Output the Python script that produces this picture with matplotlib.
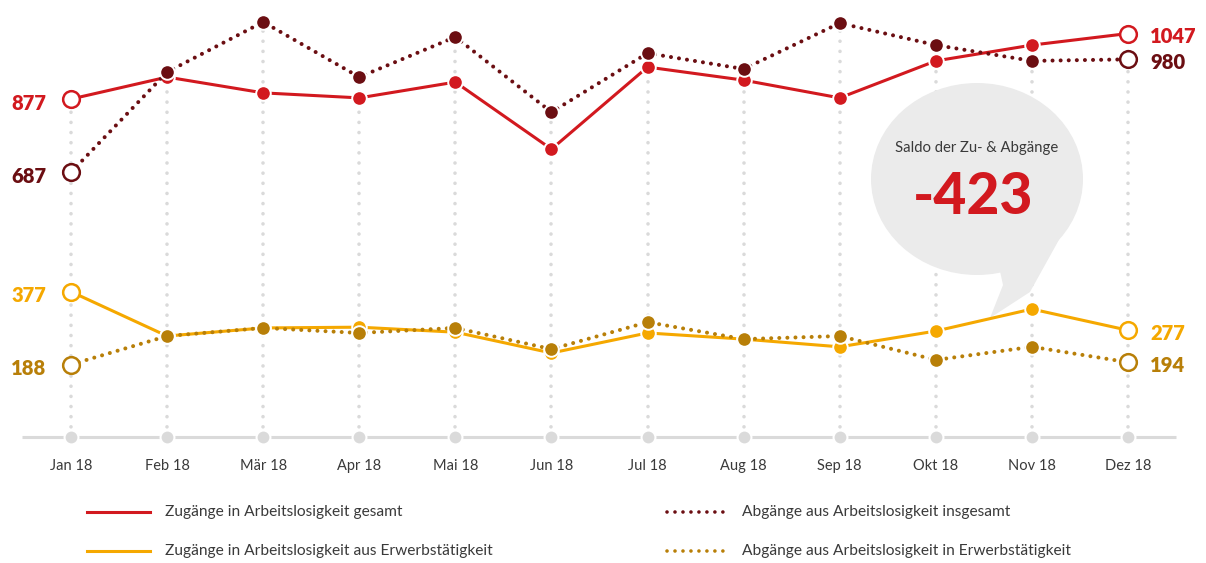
import matplotlib.pyplot as plt
import matplotlib.transforms as mtransforms
from matplotlib.patches import Ellipse, Polygon
from matplotlib.lines import Line2D

plt.rcParams['font.family'] = ['Lato', 'DejaVu Sans']

months = ['Jan 18', 'Feb 18', 'Mär 18', 'Apr 18', 'Mai 18', 'Jun 18',
          'Jul 18', 'Aug 18', 'Sep 18', 'Okt 18', 'Nov 18', 'Dez 18']

zugaenge_gesamt = [877, 934, 893, 880, 921, 747, 960, 926, 880, 976, 1017, 1047]
abgaenge_gesamt = [687, 947, 1077, 934, 1038, 843, 996, 955, 1074, 1017, 976, 980]
zugaenge_erwerb = [377, 262, 283, 285, 272, 218, 270, 254, 234, 275, 332, 277]
abgaenge_erwerb = [188, 262, 283, 270, 283, 228, 298, 254, 262, 200, 234, 194]

saldo = -423

labels = ['Zugänge in Arbeitslosigkeit gesamt',
          'Abgänge aus Arbeitslosigkeit insgesamt',
          'Zugänge in Arbeitslosigkeit aus Erwerbstätigkeit',
          'Abgänge aus Arbeitslosigkeit in Erwerbstätigkeit']

RED = '#d2191f'
DARKRED = '#6b0e12'
ORANGE = '#f5a800'
GOLD = '#b87f08'
GRID = '#dadada'
TEXT = '#3a3a3a'

W, H = 1206, 563
fig = plt.figure(figsize=(W / 100, H / 100), dpi=100)
ax = fig.add_axes([0, 0, 1, 1])
step = 96.09
upx = 2.595
ax.set_xlim(-71 / step, (W - 71) / step)
ax.set_ylim(-(H - 437) * upx, 437 * upx)
ax.axis('off')

# pixel coordinates (origin top-left) for the decorations
pix = mtransforms.Affine2D().scale(1 / W, -1 / H).translate(0, 1) + fig.transFigure
xpix = mtransforms.blended_transform_factory(ax.transData, pix)

x = list(range(len(months)))

# baseline and vertical dotted guides
ax.plot([-0.51, 11.5], [0, 0], color=GRID, lw=2.2, zorder=1, solid_capstyle='butt')
tops = [max(a, b, c, d) for a, b, c, d in zip(zugaenge_gesamt, abgaenge_gesamt,
                                              zugaenge_erwerb, abgaenge_erwerb)]
for xi, t in zip(x, tops):
    ax.plot([xi, xi], [0, t], color=GRID, lw=2.6, linestyle=(0, (0.01, 2.8)),
            dash_capstyle='round', zorder=1)
ax.plot(x, [0] * len(x), 'o', color=GRID, ms=10, mec='white', mew=1.5, zorder=2)

for xi, m in zip(x, months):
    ax.text(xi, 466, m, transform=xpix, ha='center', va='center', fontsize=10.5, color=TEXT)

# speech bubble
bubble_kw = dict(facecolor='#ebebeb', edgecolor='none', transform=pix, zorder=3)
ax.add_patch(Ellipse((977, 179), 212, 192, **bubble_kw))
ax.add_patch(Polygon([(998, 262), (1003, 285), (990, 318), (1030, 292), (1060, 238)],
                     closed=True, **bubble_kw))
ax.text(977, 148, 'Saldo der Zu- & Abgänge', transform=pix, ha='center', va='center',
        fontsize=10.7, color=TEXT, zorder=4)
ax.text(973, 197, f'{saldo}', transform=pix, ha='center', va='center',
        fontsize=41, fontweight='black', color=RED, zorder=4)

# series
series = [
    (zugaenge_gesamt, RED, '-'),
    (abgaenge_gesamt, DARKRED, ':'),
    (zugaenge_erwerb, ORANGE, '-'),
    (abgaenge_erwerb, GOLD, ':'),
]
z = 5
for vals, col, ls in series:
    if ls == '-':
        ax.plot(x, vals, color=col, lw=2.2, zorder=z, solid_capstyle='round')
    else:
        ax.plot(x, vals, color=col, lw=2.9, linestyle=(0, (0.01, 2.0)),
                dash_capstyle='round', zorder=z)
    ax.plot(x[1:-1], vals[1:-1], 'o', color=col, ms=10.5, mec='white', mew=1.4, zorder=z + 1)
    ax.plot([x[0], x[-1]], [vals[0], vals[-1]], 'o', mfc='white', mec=col, ms=12,
            mew=1.8, zorder=z + 1)
    left = mtransforms.offset_copy(ax.transData, fig, x=0, y=-4, units='dots')
    right = mtransforms.offset_copy(ax.transData, fig, x=0, y=-3, units='dots')
    ax.text(-25 / step, vals[0], f'{vals[0]}', transform=left, ha='right', va='center',
            fontsize=14.5, fontweight='heavy', color=col, zorder=8)
    ax.text(11 + 22 / step, vals[-1], f'{vals[-1]}', transform=right, ha='left',
            va='center', fontsize=14.5, fontweight='heavy', color=col, zorder=8)
    z += 2

# legend
leg = [
    (87, 150, 512, 165, RED, '-', labels[0]),
    (87, 150, 551, 165, ORANGE, '-', labels[2]),
    (665, 730, 512, 742, DARKRED, ':', labels[1]),
    (665, 730, 551, 742, GOLD, ':', labels[3]),
]
for x0, x1, y, tx, col, ls, lab in leg:
    if ls == '-':
        ln = Line2D([x0, x1], [y, y], color=col, lw=2.2, transform=pix)
    else:
        ln = Line2D([x0 + 2, x1], [y, y], color=col, lw=2.6, linestyle=(0, (0.01, 2.2)),
                    dash_capstyle='round', transform=pix)
    ax.add_line(ln)
    ax.text(tx, y, lab, transform=pix, ha='left', va='center', fontsize=11.2, color=TEXT)

fig.savefig('out.png', dpi=100, facecolor='white')
